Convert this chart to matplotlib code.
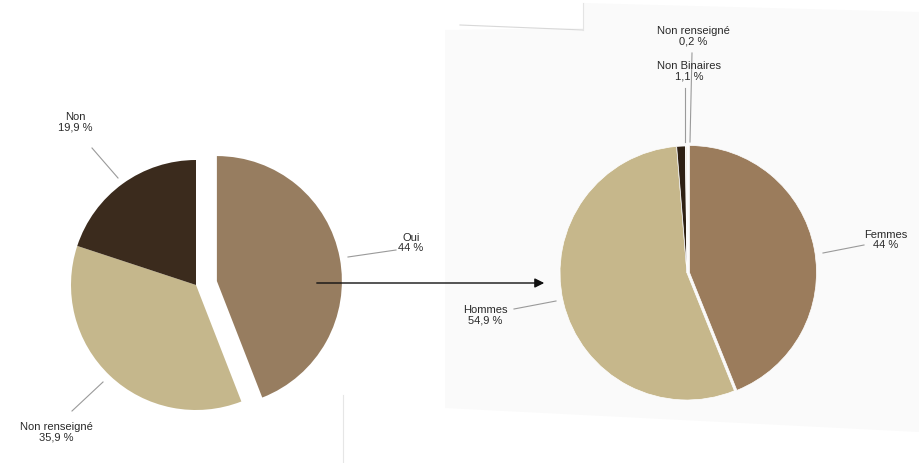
import numpy as np
import matplotlib
matplotlib.use("Agg")
import matplotlib.pyplot as plt
from matplotlib.patches import Polygon

# donnees pie gauche
gauche_labels = ["Oui", "Non renseigné", "Non"]
gauche_vals = [44, 35.9, 19.9]
gauche_txt = ["44 %", "35,9 %", "19,9 %"]
gauche_cols = ["#977d60", "#c5b78c", "#3b2b1d"]

# donnees pie droite
droite_labels = ["Femmes", "Hommes", "Non Binaires", "Non renseigné"]
droite_vals = [44, 54.9, 1.1, 0.2]
droite_txt = ["44 %", "54,9 %", "1,1 %", "0,2 %"]
droite_cols = ["#9b7c5c", "#c6b78b", "#2e2014", "#efe9de"]

W, H = 919, 463
fig = plt.figure(figsize=(W / 100, H / 100), dpi=100)
ax = fig.add_axes([0, 0, 1, 1])

def Y(y):  # coordonnees image -> axes
    return H - y

# panneau legerement gris (photo d'ecran)
panel = Polygon([(445, Y(30)), (583, Y(28)), (583, Y(3)), (919, Y(12)),
                 (919, Y(432)), (445, Y(408))], closed=True,
                facecolor="#fafafa", edgecolor="none", zorder=0)
ax.add_patch(panel)
ax.plot([460, 583], [Y(25), Y(30)], color="#d8d8d8", lw=0.8, zorder=1)
ax.plot([583, 583], [Y(3), Y(30)], color="#e4e4e4", lw=0.8, zorder=1)
ax.plot([343, 343], [Y(395), Y(463)], color="#e6e6e6", lw=0.8, zorder=1)

# pie gauche (explode en unites de donnees: matplotlib ne multiplie pas par le rayon)
r_g = 125
ax.pie(gauche_vals, colors=gauche_cols, startangle=90, counterclock=False,
       explode=[0.17 * r_g, 0, 0], center=(196, Y(285)), radius=r_g,
       wedgeprops=dict(linewidth=0), frame=True)

# pie droite
r_d = 127
ax.pie(droite_vals, colors=droite_cols, startangle=90, counterclock=False,
       explode=[0.02 * r_d, 0, 0, 0], center=(687, Y(273)), radius=r_d,
       wedgeprops=dict(linewidth=0.5, edgecolor="white"), frame=True)

ax.set_xlim(0, W)
ax.set_ylim(0, H)
ax.set_aspect("equal")
ax.axis("off")

fs = 8
tc = "#2a2a2a"
lc = "#9a9a9a"

def etiquette(x, y, nom, pct, ha="center"):
    ax.text(x, Y(y), nom + "\n" + pct, ha=ha, va="center", fontsize=fs,
            color=tc, linespacing=1.05, family="Liberation Sans")

# etiquettes gauche
etiquette(75, 122, gauche_labels[2], gauche_txt[2])
ax.plot([92, 118], [Y(148), Y(178)], color=lc, lw=0.8)
etiquette(411, 243, gauche_labels[0], gauche_txt[0])
ax.plot([348, 396], [Y(257), Y(250)], color=lc, lw=0.8)
etiquette(56, 432, gauche_labels[1], gauche_txt[1])
ax.plot([72, 103], [Y(411), Y(382)], color=lc, lw=0.8)

# etiquettes droite
etiquette(693, 36, droite_labels[3], droite_txt[3])
etiquette(689, 71, droite_labels[2], droite_txt[2])
ax.plot([685, 685], [Y(88), Y(142)], color=lc, lw=0.8)
ax.plot([692, 690], [Y(53), Y(142)], color=lc, lw=0.8)
etiquette(886, 240, droite_labels[0], droite_txt[0])
ax.plot([823, 864], [Y(253), Y(245)], color=lc, lw=0.8)
etiquette(485, 315, droite_labels[1], droite_txt[1])
ax.plot([514, 556], [Y(309), Y(301)], color=lc, lw=0.8)

# fleche
ax.annotate("", xy=(547, Y(283)), xytext=(314, Y(283)),
            arrowprops=dict(arrowstyle="-|>", color="#111111", lw=1.0,
                            mutation_scale=14))

fig.savefig("out.png", dpi=100, facecolor="white")
